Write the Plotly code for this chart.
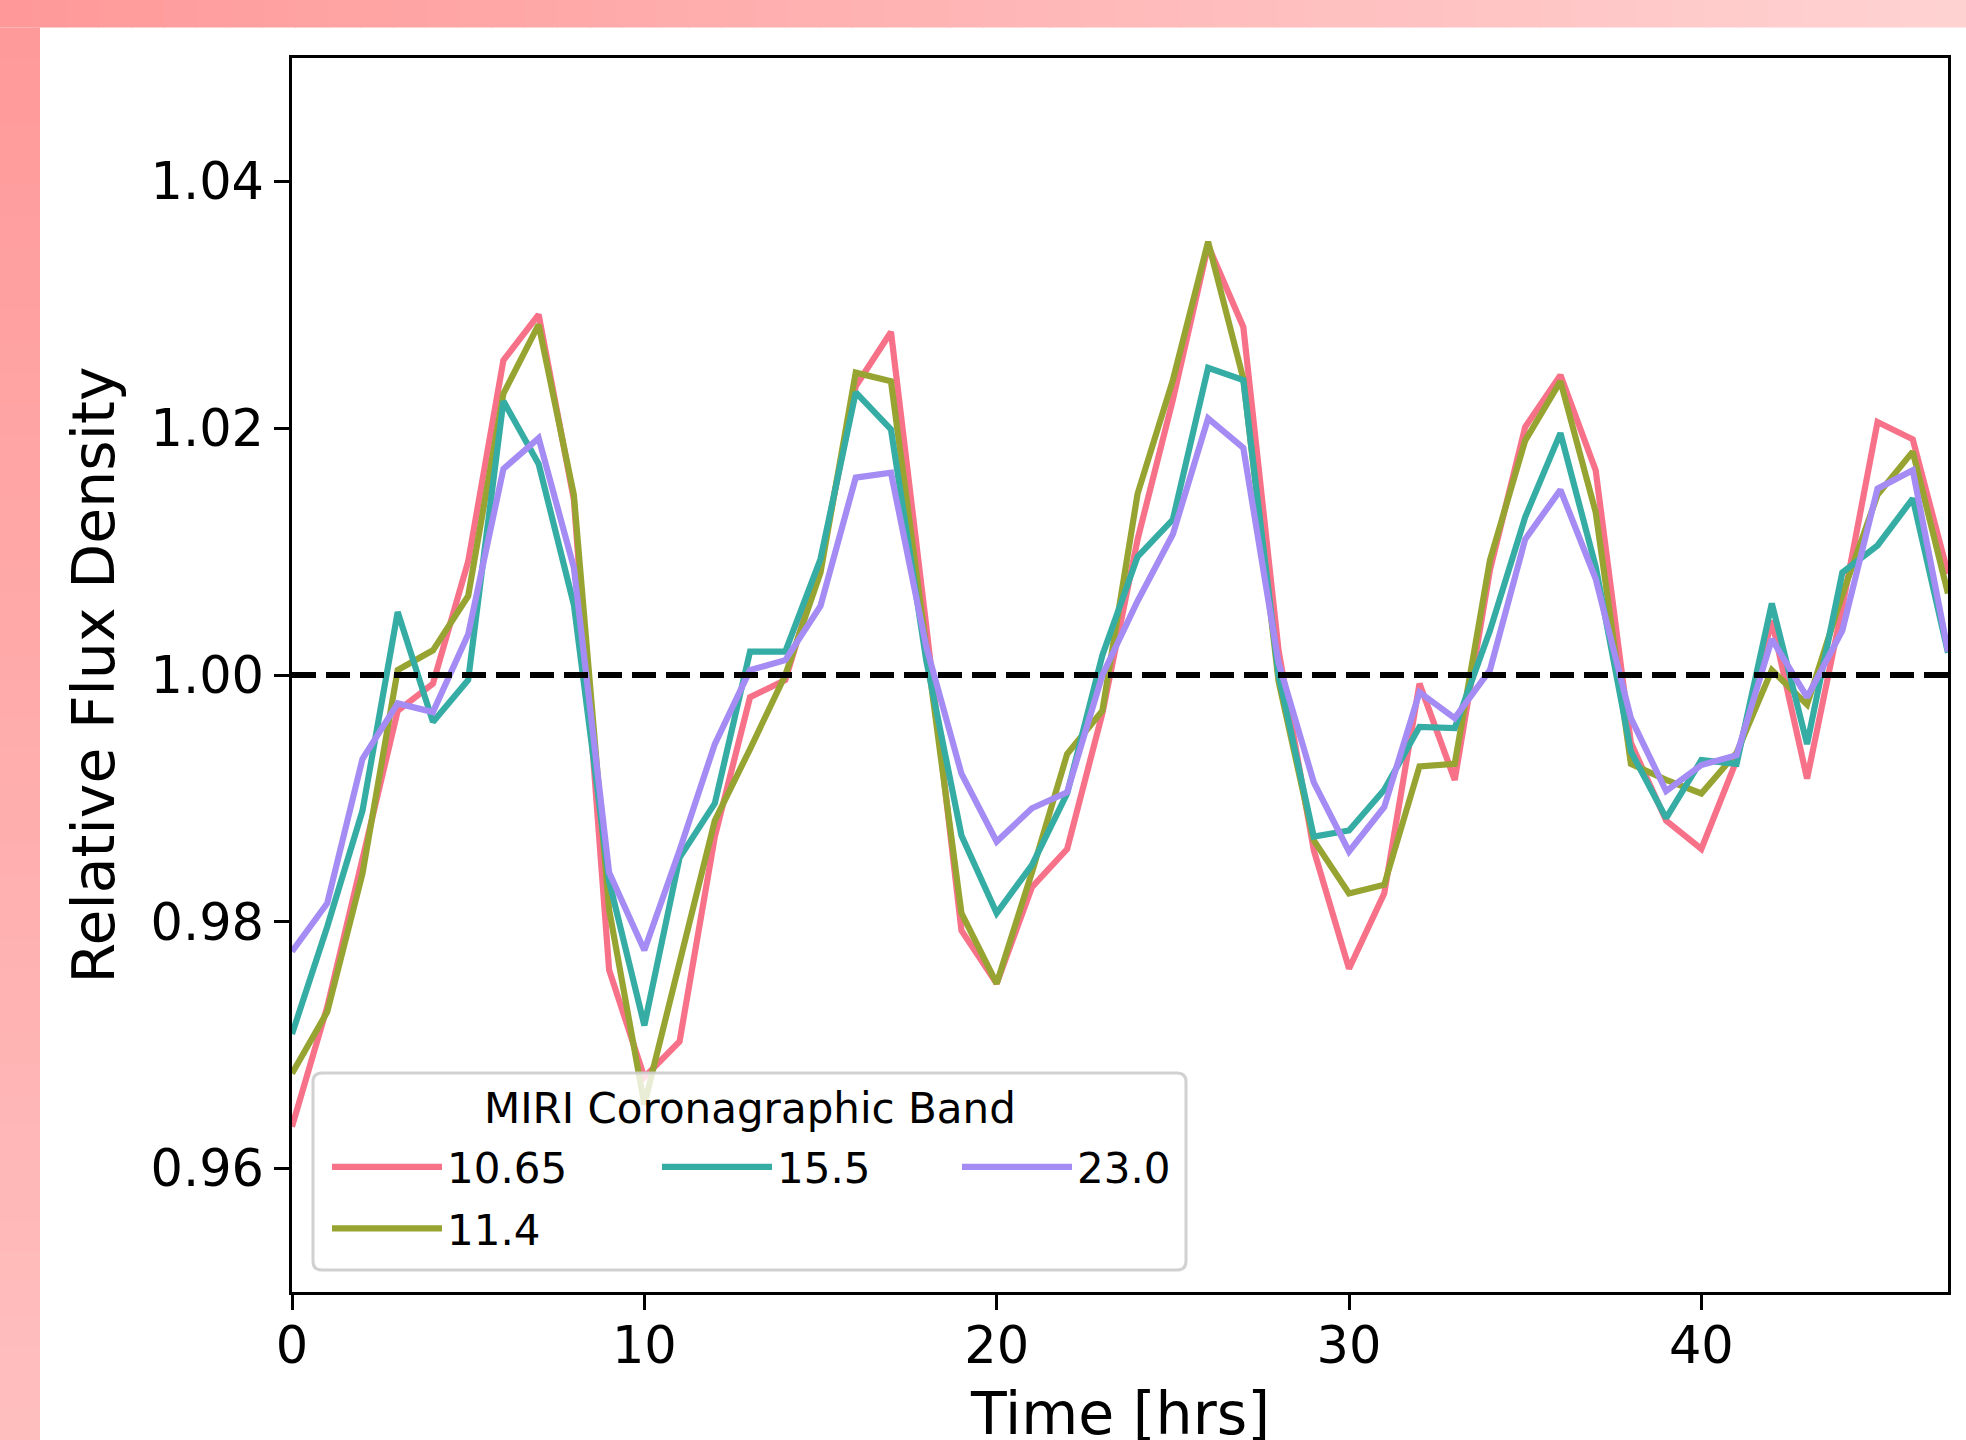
import plotly.graph_objects as go

# ---------------- data ----------------
hours = list(range(48))

flux_1065 = [0.9634, 0.9731, 0.9851, 0.9971, 0.9993, 1.0092, 1.0255, 1.0292, 1.0142, 0.9761,
             0.9674, 0.9703, 0.9869, 0.9982, 0.9996, 1.0090, 1.0234, 1.0278, 1.0040, 0.9793,
             0.9750, 0.9828, 0.9859, 0.9969, 1.0110, 1.0223, 1.0348, 1.0282, 1.0020, 0.9858,
             0.9762, 0.9823, 0.9993, 0.9915, 1.0085, 1.0201, 1.0243, 1.0166, 0.9945, 0.9882,
             0.9859, 0.9931, 1.0044, 0.9916, 1.0055, 1.0205, 1.0191, 1.0082]
flux_114 = [0.9677, 0.9727, 0.9839, 1.0004, 1.0020, 1.0064, 1.0228, 1.0284, 1.0146, 0.9810,
            0.9652, 0.9769, 0.9882, 0.9940, 1.0000, 1.0083, 1.0245, 1.0238, 1.0026, 0.9807,
            0.9750, 0.9840, 0.9936, 0.9971, 1.0147, 1.0239, 1.0351, 1.0240, 0.9995, 0.9866,
            0.9823, 0.9830, 0.9926, 0.9928, 1.0093, 1.0190, 1.0238, 1.0132, 0.9928, 0.9915,
            0.9904, 0.9937, 1.0004, 0.9976, 1.0065, 1.0146, 1.0181, 1.0066]
flux_155 = [0.9709, 0.9796, 0.9890, 1.0051, 0.9962, 0.9996, 1.0222, 1.0171, 1.0057, 0.9833,
            0.9716, 0.9852, 0.9896, 1.0019, 1.0019, 1.0094, 1.0229, 1.0199, 1.0012, 0.9870,
            0.9807, 0.9846, 0.9904, 1.0016, 1.0096, 1.0126, 1.0249, 1.0239, 1.0000, 0.9869,
            0.9874, 0.9907, 0.9958, 0.9957, 1.0036, 1.0128, 1.0196, 1.0088, 0.9938, 0.9884,
            0.9931, 0.9928, 1.0058, 0.9944, 1.0083, 1.0105, 1.0143, 1.0018]
flux_230 = [0.9776, 0.9815, 0.9932, 0.9977, 0.9970, 1.0033, 1.0167, 1.0192, 1.0087, 0.9840,
            0.9777, 0.9858, 0.9944, 1.0004, 1.0012, 1.0056, 1.0160, 1.0164, 1.0023, 0.9920,
            0.9865, 0.9892, 0.9905, 1.0000, 1.0060, 1.0114, 1.0208, 1.0184, 1.0010, 0.9913,
            0.9857, 0.9893, 0.9986, 0.9965, 1.0004, 1.0110, 1.0150, 1.0078, 0.9965, 0.9906,
            0.9927, 0.9935, 1.0029, 0.9982, 1.0036, 1.0151, 1.0166, 1.0019]

band_labels = ["10.65", "11.4", "15.5", "23.0"]
band_series = [flux_1065, flux_114, flux_155, flux_230]
band_colors = ["#f77189", "#97a431", "#36ada4", "#a48cf4"]
band_legends = ["legend", "legend", "legend2", "legend3"]

baseline_flux = 1.0
x_ticks = [0, 10, 20, 30, 40]
y_ticks = [0.96, 0.98, 1.00, 1.02, 1.04]
y_ticktext = ["0.96", "0.98", "1.00", "1.02", "1.04"]
x_title = "Time [hrs]"
y_title = "Relative Flux Density"
legend_title = "MIRI Coronagraphic Band"

# ---------------- layout geometry ----------------
W, H = 1966, 1440
ML, MR, MT, MB = 292, 18, 58, 148
PW, PH = W - ML - MR, H - MT - MB
FONT = "DejaVu Sans"


def px(x):
    return (x - ML) / PW


def py(y):
    return (H - MB - y) / PH


fig = go.Figure()

for name, vals, col, lg in zip(band_labels, band_series, band_colors, band_legends):
    fig.add_trace(go.Scatter(
        x=hours, y=vals, mode="lines", name=name,
        line=dict(color=col, width=6.2),
        legend=lg, legendgroup=name,
    ))

# reference line at unity
fig.add_shape(type="line", xref="paper", x0=0, x1=1, yref="y", y0=baseline_flux, y1=baseline_flux,
              line=dict(color="black", width=6.2, dash="24px,10px"), layer="above")

# ---------------- pink gradient frame ----------------
def pink(x, y):
    g = 152 + 58 * x / W + 38 * y / H
    g = max(0, min(255, int(round(g))))
    return f"rgb(255,{g},{g})"

TOP_BAND = 27.5
LEFT_BAND = 40
n_top = 60
for i in range(n_top):
    x0 = W * i / n_top
    x1 = W * (i + 1) / n_top + 1
    fig.add_shape(type="rect", xref="paper", yref="paper",
                  x0=px(x0), x1=px(x1), y0=py(TOP_BAND), y1=py(0),
                  fillcolor=pink((x0 + x1) / 2, TOP_BAND / 2), line=dict(width=0), layer="below")
n_left = 45
for i in range(n_left):
    y0 = TOP_BAND + (H - TOP_BAND) * i / n_left
    y1 = TOP_BAND + (H - TOP_BAND) * (i + 1) / n_left + 1
    fig.add_shape(type="rect", xref="paper", yref="paper",
                  x0=px(0), x1=px(LEFT_BAND), y0=py(y1), y1=py(y0),
                  fillcolor=pink(LEFT_BAND / 2, (y0 + y1) / 2), line=dict(width=0), layer="below")

# ---------------- legend frame (rounded) ----------------
bx0, bx1, by0, by1, r = 313, 1186, 1073, 1270, 9
path = (f"M {px(bx0 + r)},{py(by0)} L {px(bx1 - r)},{py(by0)} "
        f"Q {px(bx1)},{py(by0)} {px(bx1)},{py(by0 + r)} L {px(bx1)},{py(by1 - r)} "
        f"Q {px(bx1)},{py(by1)} {px(bx1 - r)},{py(by1)} L {px(bx0 + r)},{py(by1)} "
        f"Q {px(bx0)},{py(by1)} {px(bx0)},{py(by1 - r)} L {px(bx0)},{py(by0 + r)} "
        f"Q {px(bx0)},{py(by0)} {px(bx0 + r)},{py(by0)} Z")
fig.add_shape(type="path", xref="paper", yref="paper", path=path,
              fillcolor="rgba(255,255,255,0.8)", line=dict(color="rgba(204,204,204,0.9)", width=3),
              layer="above")

fig.add_annotation(text=legend_title, xref="paper", yref="paper",
                   x=px(750), y=py(1108), xanchor="center", yanchor="middle",
                   showarrow=False, font=dict(family=FONT, size=42, color="black"))

# x-axis title (placed explicitly so it can sit partly past the lower edge like the original)
fig.add_annotation(text=x_title, xref="paper", yref="paper",
                   x=0.5, y=py(1378), xanchor="center", yanchor="top",
                   showarrow=False, font=dict(family=FONT, size=58.5, color="black"))

legend_common = dict(xanchor="left", yanchor="top", bgcolor="rgba(0,0,0,0)", borderwidth=0,
                     font=dict(family=FONT, size=42, color="black"), itemwidth=110,
                     tracegroupgap=4, orientation="v")
LEG_TOP = 1133
fig.update_layout(
    legend=dict(x=px(327), y=py(LEG_TOP), **legend_common),
    legend2=dict(x=px(657), y=py(LEG_TOP), **legend_common),
    legend3=dict(x=px(957), y=py(LEG_TOP), **legend_common),
)

axis_common = dict(
    showline=True, linecolor="black", linewidth=3.3, mirror=True,
    ticks="outside", ticklen=14.6, tickwidth=3.3, tickcolor="black",
    showgrid=False, zeroline=False,
    tickfont=dict(family=FONT, size=51, color="black"),
)

fig.update_layout(
    width=W, height=H,
    margin=dict(l=ML, r=MR, t=MT, b=MB, autoexpand=False),
    paper_bgcolor="white", plot_bgcolor="white",
    font=dict(family=FONT, color="black"),
    showlegend=True,
    xaxis=dict(range=[0, 47], tickvals=x_ticks, ticklabelstandoff=-8, **axis_common),
    yaxis=dict(range=[0.95, 1.05], tickvals=y_ticks, ticktext=y_ticktext,
               title=dict(text=y_title, font=dict(family=FONT, size=58.5, color="black"), standoff=18),
               **axis_common),
)

fig.write_html("out.html", config={"displayModeBar": False},
               post_script="document.body.style.margin='0';")
